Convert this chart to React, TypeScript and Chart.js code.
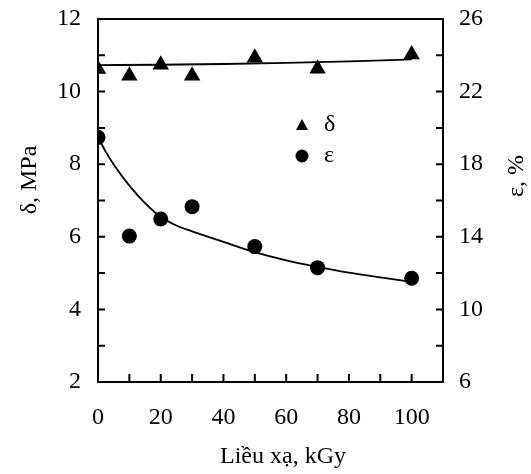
import React, { useEffect, useRef } from "react";
import { Chart, registerables } from "chart.js";

Chart.register(...registerables);

// Dose (kGy)
const doseX = [0, 10, 20, 30, 50, 70, 100];
// δ, MPa (left axis)
const deltaValues = [10.62, 10.44, 10.74, 10.44, 10.93, 10.63, 11.02];
// ε, % (right axis)
const epsValues = [19.48, 14.04, 14.98, 15.66, 13.46, 12.3, 11.72];

// fitted trend lines
const deltaFitX = [0, 20, 40, 60, 80, 100];
const deltaFitY = [10.73, 10.74, 10.76, 10.79, 10.83, 10.89];
const epsFitX = [0, 2.5, 5, 10, 15, 20, 25, 30, 40, 50, 60, 70, 80, 90, 100];
const epsFitY = [19.48, 18.68, 17.98, 16.82, 15.86, 15.1, 14.62, 14.3, 13.72, 13.15, 12.7, 12.34, 12.02, 11.76, 11.52];

// tick labels / tick marks
const xTickValues = [0, 20, 40, 60, 80, 100];
const xMinorTicks = [10, 20, 30, 40, 50, 60, 70, 80, 90, 100];
const yLeftMarks = [3, 4, 5, 6, 7, 8, 9, 10, 11];
const yRightMarks = [8, 10, 12, 14, 16, 18, 20, 22, 24];

const xTitle = "Liều xạ, kGy";
const yLeftTitle = "δ, MPa";
const yRightTitle = "ε, %";
const legendLabels = ["δ", "ε"];

const FONT = "'Liberation Serif', 'Times New Roman', serif";
const FS = 24;

const framePlugin = {
  id: "frame",
  afterDraw(chart: any) {
    const { ctx, chartArea, scales } = chart;
    const { left, right, top, bottom } = chartArea;
    ctx.save();
    ctx.strokeStyle = "#000";
    ctx.lineWidth = 2;
    ctx.strokeRect(left, top, right - left, bottom - top);
    ctx.beginPath();
    for (const v of xMinorTicks) {
      const px = scales.x.getPixelForValue(v);
      ctx.moveTo(px, bottom);
      ctx.lineTo(px, bottom - 8);
    }
    for (const v of yLeftMarks) {
      const py = scales.y.getPixelForValue(v);
      ctx.moveTo(left, py);
      ctx.lineTo(left + 7, py);
    }
    for (const v of yRightMarks) {
      const py = scales.y2.getPixelForValue(v);
      ctx.moveTo(right, py);
      ctx.lineTo(right - 7, py);
    }
    ctx.stroke();

    ctx.fillStyle = "#000";
    ctx.font = `${FS}px ${FONT}`;
    ctx.textAlign = "center";
    ctx.textBaseline = "middle";
    ctx.fillText(xTitle, 283, 457);

    ctx.save();
    ctx.translate(30, 180);
    ctx.rotate(-Math.PI / 2);
    ctx.fillText(yLeftTitle, 0, 0);
    ctx.restore();

    ctx.save();
    ctx.translate(517, 176);
    ctx.rotate(-Math.PI / 2);
    ctx.fillText(yRightTitle, 0, 0);
    ctx.restore();

    // legend
    const lx = 302;
    const ly1 = 125;
    const ly2 = 156;
    ctx.beginPath();
    ctx.moveTo(lx, ly1 - 6);
    ctx.lineTo(lx + 6, ly1 + 5);
    ctx.lineTo(lx - 6, ly1 + 5);
    ctx.closePath();
    ctx.fill();
    ctx.beginPath();
    ctx.arc(lx, ly2, 6.5, 0, Math.PI * 2);
    ctx.fill();
    ctx.textAlign = "left";
    ctx.fillText(legendLabels[0], 324, ly1);
    ctx.fillText(legendLabels[1], 324, ly2);
    ctx.restore();
  },
};

const noVPad = (s: any, w: number) => {
  s.width = w;
  s.paddingTop = 0;
  s.paddingBottom = 0;
};

export default function App() {
  const ref = useRef<HTMLCanvasElement | null>(null);
  useEffect(() => {
    if (!ref.current) return;
    const chart = new Chart(ref.current, {
      type: "scatter",
      data: {
        datasets: [
          {
            label: "δ",
            data: doseX.map((x, i) => ({ x, y: deltaValues[i] })),
            yAxisID: "y",
            pointStyle: "triangle",
            pointRadius: 9.5,
            backgroundColor: "#000",
            borderColor: "#000",
            borderWidth: 0,
            order: 0,
          },
          {
            label: "δ fit",
            data: deltaFitX.map((x, i) => ({ x, y: deltaFitY[i] })),
            yAxisID: "y",
            showLine: true,
            pointRadius: 0,
            borderColor: "#000",
            borderWidth: 1.8,
            cubicInterpolationMode: "monotone",
            order: 1,
          },
          {
            label: "ε",
            data: doseX.map((x, i) => ({ x, y: epsValues[i] })),
            yAxisID: "y2",
            pointStyle: "circle",
            pointRadius: 7.5,
            backgroundColor: "#000",
            borderColor: "#000",
            borderWidth: 0,
            order: 0,
          },
          {
            label: "ε fit",
            data: epsFitX.map((x, i) => ({ x, y: epsFitY[i] })),
            yAxisID: "y2",
            showLine: true,
            pointRadius: 0,
            borderColor: "#000",
            borderWidth: 1.8,
            cubicInterpolationMode: "monotone",
            order: 1,
          },
        ],
      },
      options: {
        responsive: false,
        animation: false,
        devicePixelRatio: 1,
        layout: { padding: { top: 19, left: 0, right: 0, bottom: 0 } },
        plugins: { legend: { display: false }, tooltip: { enabled: false } },
        scales: {
          x: {
            type: "linear",
            position: "bottom",
            min: 0,
            max: 110,
            grid: { display: false },
            border: { display: false },
            ticks: { font: { family: FONT, size: FS }, color: "#000", padding: 13, maxRotation: 0 },
            afterBuildTicks: (s: any) => {
              s.ticks = xTickValues.map((v) => ({ value: v }));
            },
            afterFit: (s: any) => {
              s.height = 92;
              s.paddingLeft = 0;
              s.paddingRight = 0;
            },
          },
          y: {
            type: "linear",
            position: "left",
            min: 2,
            max: 12,
            grid: { display: false },
            border: { display: false },
            ticks: { stepSize: 2, font: { family: FONT, size: FS }, color: "#000", padding: 9 },
            afterFit: (s: any) => noVPad(s, 98),
          },
          y2: {
            type: "linear",
            position: "right",
            min: 6,
            max: 26,
            grid: { display: false },
            border: { display: false },
            ticks: { stepSize: 4, font: { family: FONT, size: FS }, color: "#000", padding: 8 },
            afterFit: (s: any) => noVPad(s, 88),
          },
        },
      },
      plugins: [framePlugin],
    } as any);
    return () => chart.destroy();
  }, []);
  return (
    <div style={{ position: "fixed", left: 0, top: 0, width: 531, height: 474, background: "#fff" }}>
      <canvas ref={ref} width={531} height={474} />
    </div>
  );
}
